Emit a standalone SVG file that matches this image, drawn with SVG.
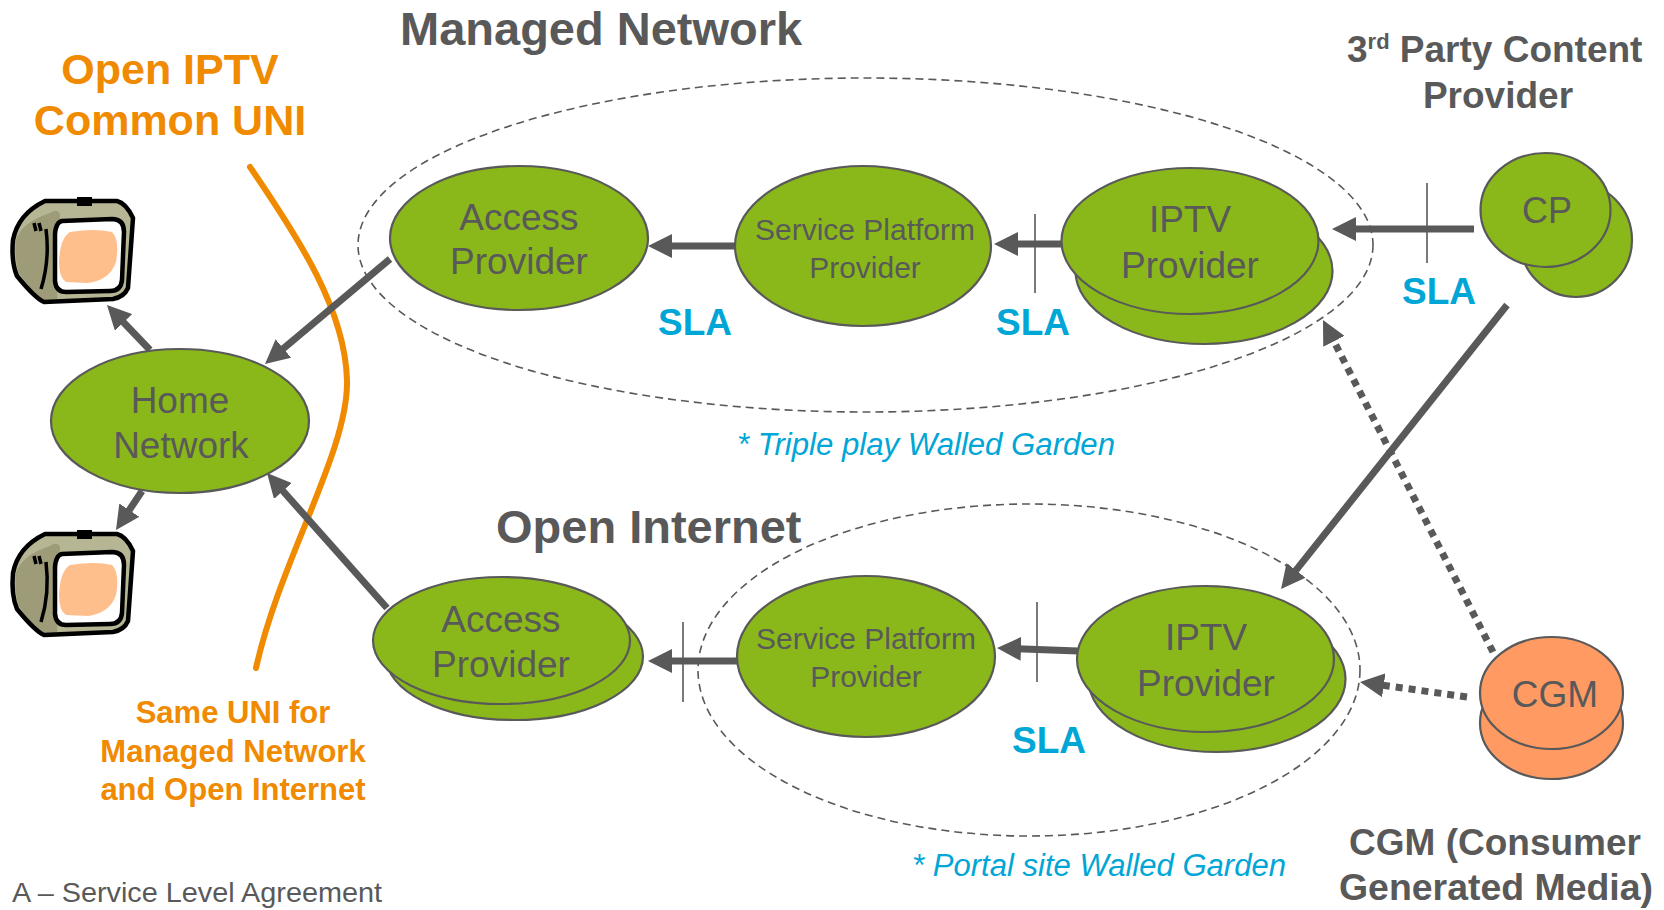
<svg xmlns="http://www.w3.org/2000/svg" xmlns:xlink="http://www.w3.org/1999/xlink" width="1664" height="910" viewBox="0 0 1664 910">
<style>
.bg{fill:#ffffff}
.garden{fill:none;stroke:#595959;stroke-width:1.6;stroke-dasharray:8 5}
.node{fill:#8AB81B;stroke:#595959;stroke-width:2.2}
.cgm{fill:#FF9A63;stroke:#595959;stroke-width:2.2}
.t{font-family:"Liberation Sans",Arial,sans-serif;fill:#595959;text-anchor:middle}
.nt{font-size:37px}
.sp{font-size:30px}
.title{font-family:"Liberation Sans",Arial,sans-serif;fill:#595959;font-weight:bold}
.orange{font-family:"Liberation Sans",Arial,sans-serif;fill:#F08A00;font-weight:bold;text-anchor:middle}
.sla{font-family:"Liberation Sans",Arial,sans-serif;fill:#00A6D6;font-weight:bold;font-size:37px}
.wg{font-family:"Liberation Sans",Arial,sans-serif;fill:#00A6D6;font-style:italic;font-size:31px}
.conn{stroke:#595959;stroke-width:7;fill:none}
.dot{stroke-dasharray:7 6}
.tick{stroke:#595959;stroke-width:1.6;fill:none}
.uni{fill:none;stroke:#F08A00;stroke-width:6;stroke-linecap:round}
</style>
<defs>
<marker id="ah" viewBox="0 0 24 24" refX="4" refY="12" markerWidth="24" markerHeight="24" markerUnits="userSpaceOnUse" orient="auto">
<path d="M0,0 L24,12 L0,24 Z" fill="#595959"/>
</marker>
<g id="tvshape">
<path d="M45,201 L117,201 Q126,203 133,218 L132,232 L128,288 Q124,297 113,299 L44,302 Q35,298 17,276 Q11,262 13,240 Q18,214 45,201 Z" fill="#B6B594"/>
<path d="M50,213 Q57,208 60,214 L57,300 L44,300 Q30,290 19,273 Q14,258 16,240 Q22,222 50,213 Z" fill="#9E9C78"/>
<path d="M45,201 L117,201 Q126,203 133,218 L132,232 L128,288 Q124,297 113,299 L44,302 Q35,298 17,276 Q11,262 13,240 Q18,214 45,201 Z" fill="none" stroke="#000" stroke-width="4.5" stroke-linejoin="round"/>
<rect x="77" y="197" width="15" height="9" fill="#000"/>
<path d="M62,221 L112,219 Q124,219 124,232 L122,280 Q121,291 110,291 L66,292 Q56,292 55,281 L55,234 Q56,222 62,221 Z" fill="#fff" stroke="#000" stroke-width="4.5"/>
<path d="M70,232 Q95,228 112,232 Q120,240 116,262 Q110,280 88,283 L66,282 Q59,278 59,262 Q60,238 70,232 Z" fill="#FFBF8C"/>
<path d="M34,223 L36,231 M39,223 L41,231" stroke="#000" stroke-width="3.5" fill="none"/>
<path d="M46,229 Q50,260 41,289" stroke="#000" stroke-width="3.5" fill="none"/>
</g>
</defs>
<rect class="bg" x="0" y="0" width="1664" height="910"/>

<g id="gardens">
<ellipse class="garden" cx="865.5" cy="245" rx="507.5" ry="167"/>
<ellipse class="garden" cx="1029" cy="670" rx="331" ry="166"/>
</g>

<g id="labels">
<text class="title" x="400" y="45" font-size="47">Managed Network</text>
<text class="title" x="496" y="543" font-size="47">Open Internet</text>
<text class="orange" x="170" y="84" font-size="43">Open IPTV</text>
<text class="orange" x="170" y="135" font-size="43">Common UNI</text>
<text class="orange" x="233" y="723" font-size="31">Same UNI for</text>
<text class="orange" x="233" y="762" font-size="31">Managed Network</text>
<text class="orange" x="233" y="800" font-size="31">and Open Internet</text>
<text class="title" x="1347" y="62" font-size="37">3<tspan font-size="22" dy="-13">rd</tspan><tspan dy="13"> Party Content</tspan></text>
<text class="title" x="1498" y="108" font-size="37" text-anchor="middle">Provider</text>
<text class="title" x="1495" y="855" font-size="37" text-anchor="middle">CGM (Consumer</text>
<text class="title" x="1496" y="900" font-size="37" text-anchor="middle" textLength="314" lengthAdjust="spacingAndGlyphs">Generated Media)</text>
<text class="wg" x="737" y="455" textLength="378" lengthAdjust="spacingAndGlyphs">* Triple play Walled Garden</text>
<text class="wg" x="912" y="876" textLength="374" lengthAdjust="spacingAndGlyphs">* Portal site Walled Garden</text>
<text class="sla" x="658" y="335">SLA</text>
<text class="sla" x="996" y="335">SLA</text>
<text class="sla" x="1402" y="304">SLA</text>
<text class="sla" x="1012" y="753">SLA</text>
<text x="12" y="902" font-family="'Liberation Sans',Arial,sans-serif" font-size="28" fill="#595959" textLength="370" lengthAdjust="spacingAndGlyphs">A – Service Level Agreement</text>
</g>

<g id="uni-line">
<path class="uni" d="M250,167 C300,240 345,310 347,380 C349,450 280,560 256,668"/>
</g>

<g id="connectors">
<line class="conn" x1="735" y1="246" x2="668" y2="246" marker-end="url(#ah)"/>
<line class="conn" x1="1062" y1="244" x2="1014" y2="244" marker-end="url(#ah)"/>
<line class="tick" x1="1035" y1="214" x2="1035" y2="293"/>
<line class="conn" x1="1474" y1="229" x2="1352" y2="229" marker-end="url(#ah)"/>
<line class="tick" x1="1427" y1="183" x2="1427" y2="263"/>
<line class="conn" x1="390" y1="259" x2="280.3" y2="351.1" marker-end="url(#ah)"/>
<line class="conn" x1="150" y1="350" x2="120.8" y2="319.5" marker-end="url(#ah)"/>
<line class="conn" x1="142" y1="491" x2="127.1" y2="513.4" marker-end="url(#ah)"/>
<line class="conn" x1="387" y1="608" x2="280.3" y2="488" marker-end="url(#ah)"/>
<line class="conn" x1="737" y1="661" x2="668" y2="661" marker-end="url(#ah)"/>
<line class="tick" x1="683" y1="622" x2="683" y2="702"/>
<line class="conn" x1="1078" y1="651" x2="1017" y2="648.7" marker-end="url(#ah)"/>
<line class="tick" x1="1037" y1="602" x2="1037" y2="682"/>
<line class="conn" x1="1507" y1="305" x2="1293.5" y2="573.4" marker-end="url(#ah)"/>
<line class="conn dot" x1="1493" y1="652" x2="1332.1" y2="337.8" marker-end="url(#ah)"/>
<line class="conn dot" x1="1467" y1="697" x2="1379.8" y2="684.8" marker-end="url(#ah)"/>
</g>

<g id="tv-top"><use xlink:href="#tvshape" href="#tvshape"/></g>
<g id="tv-bottom" transform="translate(0,333)"><use xlink:href="#tvshape" href="#tvshape"/></g>

<g id="home-network">
<ellipse class="node" cx="180" cy="421" rx="129" ry="72"/>
<text class="t nt" x="180" y="413">Home</text>
<text class="t nt" x="181" y="458">Network</text>
</g>

<g id="access-managed">
<ellipse class="node" cx="519" cy="238" rx="129" ry="72"/>
<text class="t nt" x="519" y="230">Access</text>
<text class="t nt" x="519" y="274">Provider</text>
</g>

<g id="spp-managed">
<ellipse class="node" cx="863" cy="246" rx="128" ry="80"/>
<text class="t sp" x="865" y="240">Service Platform</text>
<text class="t sp" x="865" y="278">Provider</text>
</g>

<g id="iptv-managed">
<ellipse class="node" cx="1204" cy="271" rx="128.5" ry="73"/>
<ellipse class="node" cx="1190" cy="241" rx="128.5" ry="73"/>
<text class="t nt" x="1190" y="232">IPTV</text>
<text class="t nt" x="1190" y="278">Provider</text>
</g>

<g id="cp">
<ellipse class="node" cx="1576" cy="240" rx="56" ry="57"/>
<ellipse class="node" cx="1545.5" cy="210" rx="65" ry="57"/>
<text class="t" x="1547" y="223" font-size="36">CP</text>
</g>

<g id="access-open">
<ellipse class="node" cx="514.5" cy="656.5" rx="128.5" ry="63.5"/>
<ellipse class="node" cx="501.5" cy="640.5" rx="128.5" ry="63.5"/>
<text class="t nt" x="501" y="632">Access</text>
<text class="t nt" x="501" y="677">Provider</text>
</g>

<g id="spp-open">
<ellipse class="node" cx="866" cy="656.5" rx="129" ry="80.5"/>
<text class="t sp" x="866" y="649">Service Platform</text>
<text class="t sp" x="866" y="687">Provider</text>
</g>

<g id="iptv-open">
<ellipse class="node" cx="1217" cy="679" rx="128.5" ry="73"/>
<ellipse class="node" cx="1205.5" cy="659" rx="128.5" ry="73"/>
<text class="t nt" x="1206" y="650">IPTV</text>
<text class="t nt" x="1206" y="696">Provider</text>
</g>

<g id="cgm">
<ellipse class="cgm" cx="1551.5" cy="723" rx="71.5" ry="56"/>
<ellipse class="cgm" cx="1551.5" cy="693" rx="71.5" ry="56"/>
<text class="t" x="1555" y="707" font-size="37">CGM</text>
</g>
</svg>
